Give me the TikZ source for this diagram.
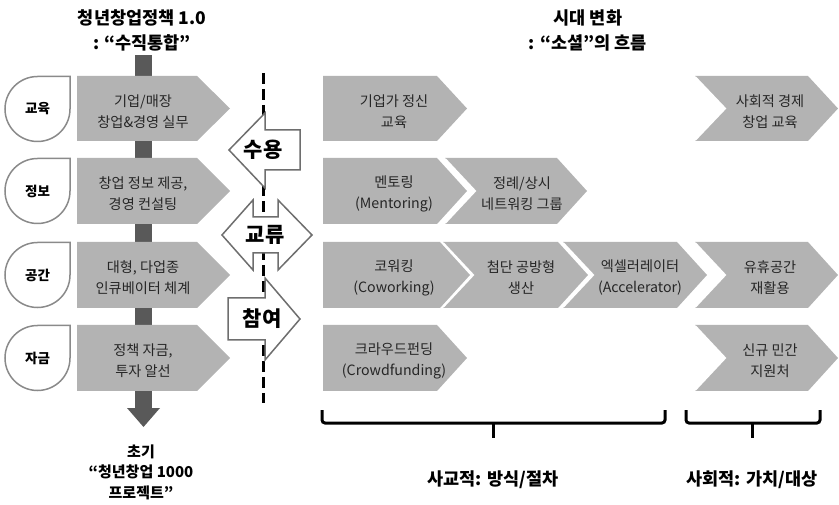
\documentclass[tikz,border=0pt]{standalone}
\usepackage{fontspec}
\setmainfont{Noto Sans CJK KR}
\definecolor{chevgray}{HTML}{B3B3B3}
\definecolor{textgray}{HTML}{262626}
\definecolor{bargray}{HTML}{595959}
\definecolor{teargray}{HTML}{8A8A8A}
\definecolor{arrowgray}{HTML}{6E6E6E}
\tikzset{
  ctext/.style={font=\fontsize{14.2}{21}\selectfont, text=textgray, align=center, inner sep=0pt},
  tearshape/.style={draw=teargray, line width=1.5pt, fill=white},
  ttext/.style={font=\bfseries\fontsize{13.5}{15}\selectfont, inner sep=0pt},
  blockarrow/.style={draw=arrowgray, line width=1.5pt, fill=white},
  atext/.style={font=\bfseries\fontsize{21}{24}\selectfont, inner sep=0pt},
  titletext/.style={font=\bfseries\fontsize{17.5}{25}\selectfont, align=center, inner sep=0pt},
  bracetext/.style={font=\bfseries\fontsize{17.5}{20}\selectfont, inner sep=0pt},
  bracket/.style={line width=3pt, rounded corners=3pt},
  dashline/.style={line width=3pt, dash pattern=on 11pt off 5pt},
}
% #1 name, #2 x0, #3 x1, #4 ytop, #5 ybot, #6 tip depth, #7 notch depth, #8 text x, #9 text
\newcommand\chevshape[9]{%
  \fill[chevgray] (#2,-#4) -- ({#3-#6},-#4) -- (#3,{-(#4+#5)/2}) -- ({#3-#6},-#5) -- (#2,-#5) -- ({#2+#7},{-(#4+#5)/2}) -- cycle;
  \ifnum#7>0
    \draw[white, line width=2pt] (#2,{-#4-1}) -- ({#2+#7},{-(#4+#5)/2}) -- (#2,{-#5+1});
  \fi
  \node[ctext] (#1) at (#8,{-(#4+#5)/2-3}) {#9};
}
% #1 name, #2 cx, #3 cy, #4 text
\newcommand\teardrop[4]{%
  \draw[tearshape] ({#2+32.5},-#3) -- ({#2+32.5},{-#3+32.5}) -- (#2,{-#3+32.5}) arc[start angle=90, end angle=360, radius=32.5] -- cycle;
  \node[ttext] (#1) at (#2,-#3) {#4};
}
\begin{document}
\begin{tikzpicture}[x=1pt, y=1pt]
\useasboundingbox (0,0) rectangle (839,-505);

% vertical bar with down arrow
\fill[bargray] (135,-55) rectangle (152,-408);
\fill[bargray] (127,-408) -- (160,-408) -- (143.5,-427) -- cycle;

% left column
\chevshape{l1}{77}{230}{76}{141}{33}{0}{143}{기업/매장\\창업\&경영 실무}
\chevshape{l2}{77}{230}{158}{224}{33}{0}{143}{창업 정보 제공,\\경영 컨설팅}
\chevshape{l3}{77}{230}{242}{308}{33}{0}{143}{대형, 다업종\\인큐베이터 체계}
\chevshape{l4}{77}{230}{325}{391}{33}{0}{143}{정책 자금,\\투자 알선}

\teardrop{t1}{37.5}{109}{교육}
\teardrop{t2}{37.5}{191}{정보}
\teardrop{t3}{37.5}{275}{공간}
\teardrop{t4}{37.5}{358}{자금}

% right chevrons
\chevshape{r11}{323}{467}{76}{141}{30}{0}{394}{기업가 정신\\교육}
\chevshape{r12}{695}{838}{76}{141}{30}{30}{770}{사회적 경제\\창업 교육}
\chevshape{r21}{323}{467}{158}{224}{30}{0}{394}{멘토링\\(Mentoring)}
\chevshape{r22}{445}{587}{158}{224}{30}{30}{522}{정례/상시\\네트워킹 그룹}
\chevshape{r31}{323}{470}{242}{308}{30}{0}{394}{코워킹\\(Coworking)}
\chevshape{r32}{443}{588}{242}{308}{30}{30}{521}{첨단 공방형\\생산}
\chevshape{r33}{563}{707}{242}{308}{30}{30}{640}{엑셀러레이터\\(Accelerator)}
\chevshape{r34}{695}{838}{242}{308}{30}{30}{770}{유휴공간\\재활용}
\chevshape{r41}{323}{467}{325}{391}{30}{0}{394}{크라우드펀딩\\(Crowdfunding)}
\chevshape{r42}{695}{838}{325}{391}{30}{30}{770}{신규 민간\\지원처}

% dashed divider
\coordinate (dtop) at (263,-73);
\coordinate (dbot) at (263,-403);
\draw[dashline] (dtop) -- (dbot);

% block arrows
\draw[blockarrow] (229,-150) -- (265,-113) -- (265,-130) -- (300,-130) -- (300,-170) -- (265,-170) -- (265,-188) -- cycle;
\node[atext] (suyong) at (263,-150) {수용};
\draw[blockarrow] (222,-235) -- (253,-200) -- (253,-217) -- (278,-217) -- (278,-200) -- (312,-235) -- (278,-270) -- (278,-253) -- (253,-253) -- (253,-270) -- cycle;
\node[atext] (gyoryu) at (265,-235) {교류};
\draw[blockarrow] (228,-298) -- (265,-298) -- (265,-278) -- (300,-319) -- (265,-360) -- (265,-340) -- (228,-340) -- cycle;
\node[atext] (chamyeo) at (262,-319) {참여};

% titles
\node[titletext] (tl) at (142,-30) {청년창업정책 1.0\\: “수직통합”};
\node[titletext] (tr) at (588,-30) {시대 변화\\: “소셜”의 흐름};
\node[titletext, font=\bfseries\fontsize{15}{20.5}\selectfont] (bl) at (141,-472) {초기\\“청년창업 1000\\프로젝트”};

% brackets
\draw[bracket] (322,-410) -- (322,-423) -- (665,-423) -- (665,-410);
\draw[bracket] (493,-423) -- (493,-438);
\draw[bracket] (686,-410) -- (686,-423) -- (820,-423) -- (820,-410);
\draw[bracket] (752,-423) -- (752,-438);
\node[bracetext] (b1) at (493,-480) {사교적: 방식/절차};
\node[bracetext] (b2) at (752,-480) {사회적: 가치/대상};
\end{tikzpicture}
\end{document}
